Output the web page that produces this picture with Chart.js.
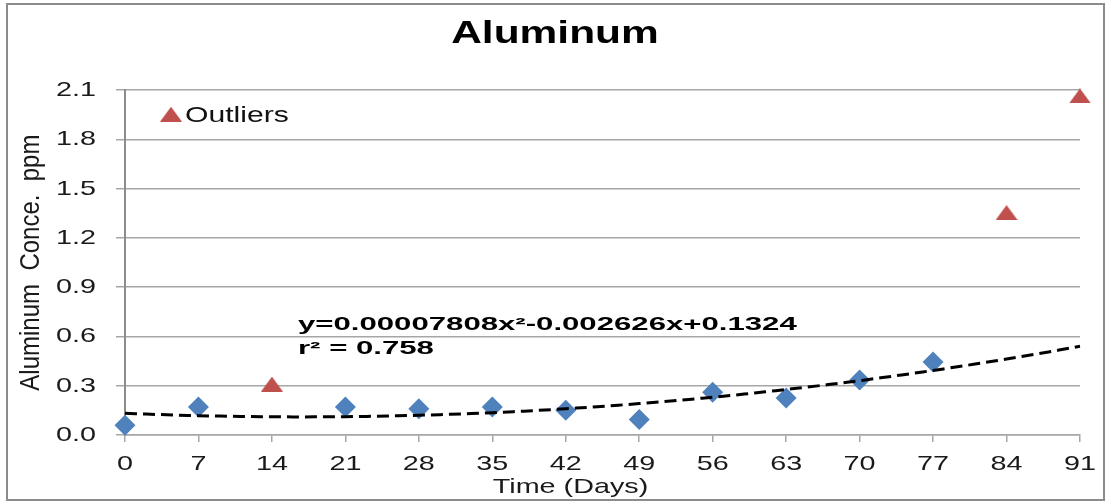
<!DOCTYPE html>
<html>
<head>
<meta charset="utf-8">
<script src="https://cdn.jsdelivr.net/npm/chart.js@4.4.1/dist/chart.umd.min.js"></script>
<style>
  body { margin: 0; background: #fff; }
  #chart { display: block; }
</style>
</head>
<body>
<canvas id="chart" width="1110" height="504"></canvas>
<script>
// sampling days and measured aluminum (ppm)
var days = [0, 7, 21, 28, 35, 42, 49, 56, 63, 70, 77];
var aluminum = [0.06, 0.17, 0.17, 0.16, 0.17, 0.15, 0.095, 0.26, 0.225, 0.335, 0.445];

// samples left out of the fit
var outlierDays = [14, 84, 91];
var outlierValues = [0.31, 1.355, 2.065];

// 2nd order polynomial fit: a*x^2 + b*x + c
var trendCoef = [0.00007808, -0.002626, 0.1324];
var rSquared = 0.758;

var xTicks = [0, 7, 14, 21, 28, 35, 42, 49, 56, 63, 70, 77, 84, 91];
var yTicks = ['0.0', '0.3', '0.6', '0.9', '1.2', '1.5', '1.8', '2.1'];

var FONT = '"Liberation Sans", Arial, sans-serif';
var GRID = '#a6a6a6';

var trendPoints = [];
for (var d = xTicks[0]; d <= xTicks[xTicks.length - 1]; d++) {
	trendPoints.push({ x: d, y: trendCoef[0] * d * d + trendCoef[1] * d + trendCoef[2] });
}

function signed(v) {
	return (v < 0 ? '-' : '+') + Math.abs(v);
}
var eqText = 'y=' + trendCoef[0] + 'x\u00b2' + signed(trendCoef[1]) + 'x' + signed(trendCoef[2]);

// red triangle marker, a bit wider than tall
function triangleImage(w, h, color) {
	var c = document.createElement('canvas');
	c.width = w;
	c.height = h;
	var g = c.getContext('2d');
	g.fillStyle = color;
	g.beginPath();
	g.moveTo(w / 2, 0);
	g.lineTo(w, h);
	g.lineTo(0, h);
	g.closePath();
	g.fill();
	return c;
}
var tri = triangleImage(22, 15, '#C0504D');

var canvas = document.getElementById('chart');
var ctx = canvas.getContext('2d');

// text on this chart is set wide: stretch glyphs horizontally (screen x) around their anchor
ctx.textStretch = 1.37;
ctx.rotStretch = 1.15;
var rawFillText = ctx.fillText;
ctx.fillText = function (text, x, y) {
	var m = this.getTransform();
	var k = (m.b === 0 && m.c === 0) ? this.textStretch : this.rotStretch;
	var p = m.transformPoint(new DOMPoint(x, y));
	this.save();
	this.setTransform(new DOMMatrix().translate(p.x, p.y).scale(k, 1).translate(-p.x, -p.y).multiply(m));
	rawFillText.apply(this, arguments);
	this.restore();
};

// white background and grey frame round the whole chart
var frame = {
	id: 'frame',
	beforeDraw: function (chart) {
		var c = chart.ctx;
		c.save();
		c.fillStyle = '#fff';
		c.fillRect(0, 0, chart.width, chart.height);
		c.strokeStyle = '#8c8c8c';
		c.lineWidth = 2;
		c.strokeRect(7, 4, chart.width - 13, chart.height - 8);
		c.restore();
	}
};

// legend entry for the outliers and the fitted equation
var notes = {
	id: 'notes',
	afterDraw: function (chart) {
		var c = chart.ctx, area = chart.chartArea;
		c.save();
		var lx = area.left + 46, ly = area.top + 24;
		c.drawImage(tri, lx - tri.width / 2, ly - tri.height / 2);
		c.font = '22px ' + FONT;
		c.fillStyle = '#111';
		c.textAlign = 'left';
		c.textBaseline = 'middle';
		c.fillText(chart.data.datasets[2].label, lx + 14, ly + 1.5);

		c.font = 'bold 18px ' + FONT;
		c.fillStyle = '#000';
		c.textStretch = 1.73;
		c.fillText(eqText, area.left + 173, area.top + 235);
		c.fillText('r\u00b2 = ' + rSquared, area.left + 173, area.top + 259);
		c.textStretch = 1.37;
		c.restore();
	}
};

new Chart(ctx, {
	type: 'scatter',
	data: {
		datasets: [{
			label: 'Trend',
			data: trendPoints,
			showLine: true,
			borderColor: '#000',
			borderWidth: 3,
			borderDash: [12, 6],
			pointRadius: 0,
			fill: false,
			order: 0,
			clip: false
		}, {
			label: 'Aluminum',
			data: days.map(function (d, i) { return { x: d, y: aluminum[i] }; }),
			pointStyle: 'rectRot',
			pointRadius: 10.5,
			backgroundColor: '#4F81BD',
			borderColor: '#4F81BD',
			borderWidth: 0,
			order: 1,
			clip: false
		}, {
			label: 'Outliers',
			data: outlierDays.map(function (d, i) { return { x: d, y: outlierValues[i] }; }),
			pointStyle: tri,
			order: 1,
			clip: false
		}]
	},
	options: {
		responsive: false,
		devicePixelRatio: 1,
		animation: false,
		layout: { padding: { left: 0, right: 0, top: 0, bottom: 4 } },
		plugins: {
			legend: { display: false },
			tooltip: { enabled: false },
			title: {
				display: true,
				text: 'Aluminum',
				color: '#000',
				font: { family: FONT, size: 31, weight: 'bold' },
				padding: { top: 16, bottom: 37 }
			}
		},
		scales: {
			x: {
				type: 'linear',
				min: 0,
				max: 91,
				afterBuildTicks: function (s) { s.ticks = xTicks.map(function (v) { return { value: v }; }); },
				afterFit: function (s) { s.height = 65; },
				grid: { drawOnChartArea: false, drawTicks: true, tickLength: 7, color: GRID, lineWidth: 1.5 },
				border: { display: true, color: GRID, width: 1.5 },
				ticks: {
					autoSkip: false,
					maxRotation: 0,
					padding: 10,
					color: '#1a1a1a',
					font: { family: FONT, size: 21 },
					callback: function (v) { return String(v); }
				},
				title: {
					display: true,
					// trailing spaces pull the centred caption a little to the left
					text: 'Time (Days)        ',
					color: '#1a1a1a',
					font: { family: FONT, size: 21 },
					padding: { top: 0, bottom: 0 }
				}
			},
			y: {
				min: 0,
				max: 2.1,
				afterBuildTicks: function (s) { s.ticks = yTicks.map(function (t) { return { value: parseFloat(t) }; }); },
				afterFit: function (s) { s.width = 125; },
				grid: { drawTicks: true, tickLength: 9, color: GRID, lineWidth: 1.5 },
				border: { display: true, color: '#8c8c8c', width: 2 },
				ticks: {
					padding: 20,
					color: '#1a1a1a',
					font: { family: FONT, size: 21 },
					callback: function (v, i) { return yTicks[i]; }
				},
				title: {
					display: true,
					text: 'Aluminum  Conce.  ppm',
					color: '#1a1a1a',
					font: { family: FONT, size: 24 },
					padding: { top: 17, bottom: 0 }
				}
			},
			// empty strip on the right so the plot ends short of the frame
			edge: {
				type: 'linear',
				position: 'right',
				display: true,
				afterFit: function (s) { s.width = 30; },
				grid: { display: false },
				border: { display: false },
				ticks: { display: false }
			}
		}
	},
	plugins: [frame, notes]
});
</script>
</body>
</html>
